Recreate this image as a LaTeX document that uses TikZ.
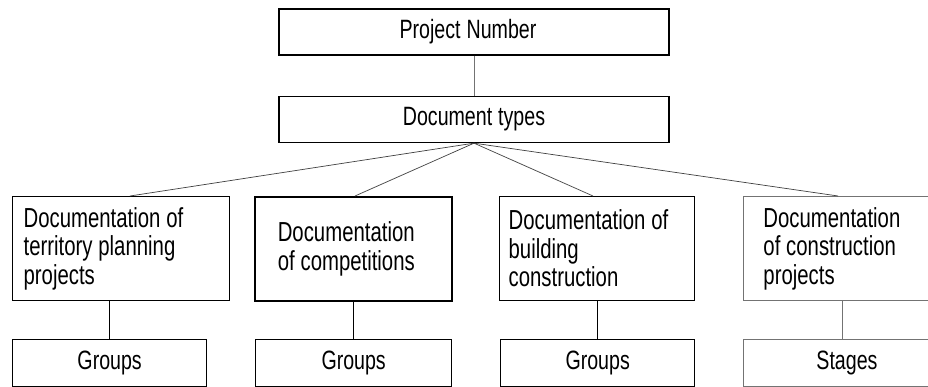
\documentclass[tikz,border=0pt]{standalone}
\usepackage{fontspec}
\setmainfont[FakeStretch=0.74]{Liberation Sans}
\newcommand\mytxtfont{\fontsize{26.5}{28}\selectfont\spaceskip 6pt\relax}
\newcommand\mydocfont{\fontsize{27.5}{28.5}\selectfont}
\newcommand\tightsp{\spaceskip 5.8pt\relax}
\begin{document}
\begin{tikzpicture}[x=1pt,y=-1pt,
  boxline/.style={draw=black, line width=1.3pt},
  lightline/.style={draw=black!55, line width=0.9pt},
  txt/.style={font=\mytxtfont},
  dtxt/.style={font=\mydocfont},
  topbox/.style={boxline, txt, rectangle, minimum width=390pt, minimum height=46pt, inner sep=0pt},
  docbox/.style={rectangle, dtxt, align=left, inner ysep=0pt, minimum height=104pt},
  grpbox/.style={rectangle, txt, inner sep=0pt, minimum height=47pt},
  conn/.style={draw=black!75, line width=0.7pt},
  vconn/.style={draw=black, line width=0.9pt}]
\useasboundingbox (0,0) rectangle (928,387);
\fill[white] (0,0) rectangle (928,387);
\clip (0,0) rectangle (928,387);
% top boxes
\node[topbox] (pn) at (474,32) {\hspace*{-12pt}Project Number};
\node[topbox] (dt) at (474,119.5) {Document types};
% documentation boxes
\node[docbox, boxline, text width=195pt, inner xsep=11pt, anchor=north west] (b1) at (12,196) {\tightsp Documentation of\\territory planning\\projects};
\node[docbox, draw=black, line width=1.6pt, text width=151pt, inner xsep=23pt, anchor=north west] (b2) at (254,196) {\tightsp Documentation\\of competitions};
\node[docbox, boxline, text width=177pt, inner xsep=9pt, anchor=north west] (b3) at (499,196) {\tightsp Documentation of\\building\\construction};
\node[docbox, lightline, text width=167pt, inner xsep=20pt, anchor=north west] (b4) at (743,196) {\tightsp Documentation\\of construction\\projects};
% lower boxes
\node[grpbox, boxline, minimum width=194pt, anchor=north west] (g1) at (12,339) {Groups};
\node[grpbox, boxline, minimum width=196pt, anchor=north west] (g2) at (255,339) {Groups};
\node[grpbox, boxline, minimum width=194pt, anchor=north west] (g3) at (500,339) {Groups};
\node[grpbox, lightline, minimum width=198pt, anchor=north west, text width=198pt, align=left] (st) at (743,339) {\hspace*{73pt}Stages};
% connectors
\draw[draw=black!55, line width=0.8pt] (pn.south) -- (dt.north);
\draw[conn] (dt.south) -- ([xshift=118pt]b1.north west);
\draw[conn] (dt.south) -- ([xshift=101pt]b2.north west);
\draw[conn] (dt.south) -- ([xshift=94pt]b3.north west);
\draw[conn] (dt.south) -- ([xshift=95pt]b4.north west);
\draw[vconn] (g1.north) -- (g1.north |- b1.south);
\draw[vconn] (g2.north) -- (g2.north |- b2.south);
\draw[vconn] (g3.north) -- (g3.north |- b3.south);
\draw[lightline] ([xshift=99pt]st.north west) -- ([xshift=99pt]st.north west |- b4.south);
\end{tikzpicture}
\end{document}
